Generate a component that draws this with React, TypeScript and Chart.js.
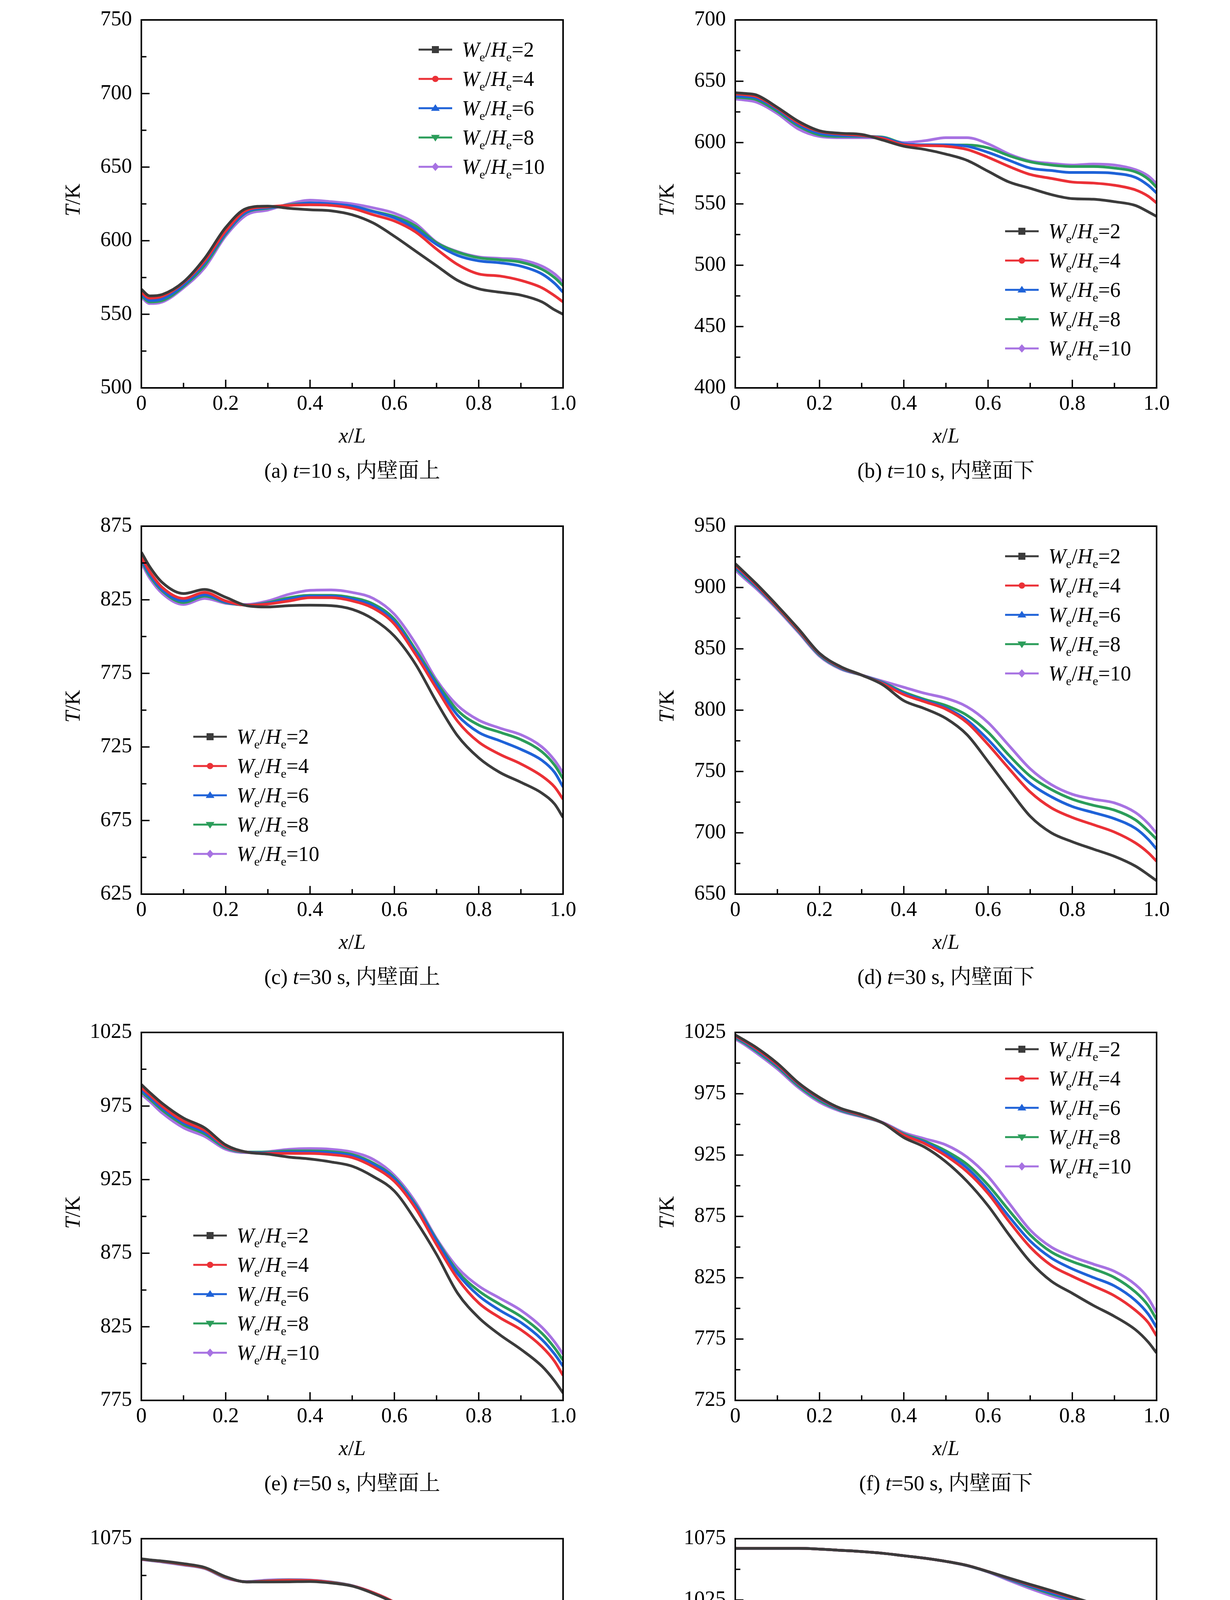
import React, { useEffect, useRef } from 'react';
import { Chart, registerables } from 'chart.js';

Chart.register(...registerables);

// x/L positions where the curves were read
const XS = [0, 0.02, 0.05, 0.1, 0.15, 0.2, 0.25, 0.3, 0.35, 0.4, 0.45, 0.5, 0.55, 0.6, 0.65, 0.7, 0.75, 0.8, 0.85, 0.9, 0.95, 0.98, 1.0];
const RATIOS = ['2', '4', '6', '8', '10'];
const X_TICKS = [0, 0.2, 0.4, 0.6, 0.8, 1.0];

// T (K) per panel, one row per We/He = 2, 4, 6, 8, 10
const T_A = [
  [567, 562.5, 563.5, 572, 588, 609, 622, 623.5, 622, 621, 620.3, 617.6, 612, 603, 593, 583, 573, 567.3, 565, 563, 558.4, 553, 550],
  [564.7, 561, 562.3, 571.5, 586.3, 606.6, 620.8, 623, 624, 624.4, 624, 622, 617.6, 613.4, 606, 594.3, 583.8, 577.4, 576, 573, 568, 562.6, 558.4],
  [563.7, 559.4, 560.5, 570, 585, 605.3, 619.7, 622.4, 624, 625.6, 625, 623.5, 619.7, 615.5, 608, 597.5, 590, 586.3, 585, 582.7, 577.4, 571, 565],
  [562.6, 558.4, 559.4, 569, 583.3, 604.5, 619.3, 622, 624.4, 625.6, 624.6, 623.5, 620, 616.5, 610, 598.6, 592.2, 588.4, 587, 585.4, 580.6, 574.9, 569.4],
  [561.5, 557.3, 558.4, 568, 581.6, 603.2, 617.6, 620.8, 625, 627.5, 626.5, 625, 622.3, 618.7, 611.7, 599, 592.6, 589, 588, 587, 582.7, 577.4, 572],
];
const T_B = [
  [640.6, 640.1, 638.8, 628.7, 617.3, 609.6, 607.6, 606.6, 602, 597, 594.4, 590.6, 585.5, 576.6, 567.8, 562.7, 557.6, 554.3, 553.8, 551.8, 548.7, 543.6, 539.8],
  [639.6, 639.1, 637.6, 628, 616, 609.1, 607, 605.8, 603.3, 598.2, 597.5, 597, 594.4, 588, 580.5, 574, 570.8, 567.8, 567, 565.2, 561.4, 556.3, 550.8],
  [638, 637.6, 636.3, 627, 614.7, 607.6, 605.8, 605.3, 604, 599, 598.2, 598.2, 597, 592, 585.5, 579.2, 577.2, 575.6, 575.6, 574.9, 571.6, 565.2, 558.9],
  [637, 636.5, 635, 625.4, 613.5, 606.3, 605, 605, 604.5, 599, 598, 598, 598, 595.7, 589.3, 584.3, 581.7, 580.5, 580.5, 579.2, 576.1, 570.3, 563.5],
  [635.5, 634.8, 633, 623.6, 611, 605, 604, 604, 603.8, 600, 601.5, 604, 604, 599, 590.6, 585, 583, 581.7, 582.5, 581.7, 577.9, 572.8, 566.5],
];
const T_C = [
  [857.3, 847.4, 836.6, 829.2, 832, 826.7, 821, 820.1, 821, 821.3, 821, 818.5, 811.8, 800.3, 781.3, 755.6, 732.5, 717.6, 707.7, 701, 693.6, 686.2, 677.1],
  [854, 844.1, 833.3, 825.9, 830, 824.2, 821.3, 822.1, 824.2, 826.4, 826.4, 824.2, 819.3, 808.5, 787.9, 764.7, 742.4, 728.3, 720, 713.5, 705.2, 697.8, 689.5],
  [852.3, 842.4, 831.7, 824.2, 828.4, 823.4, 821.4, 822.6, 825.4, 827.4, 827.4, 825.4, 820.9, 810.2, 789.5, 767.2, 746.5, 734.9, 729.2, 723.4, 715.9, 707.7, 697.8],
  [851.5, 841.3, 830.9, 823.1, 827.5, 823.1, 821.4, 823.1, 826.4, 828, 828, 826.4, 822.1, 811.8, 791.2, 768.9, 749.8, 739.9, 735, 730, 721.7, 712.6, 703.5],
  [849.9, 839.6, 829.2, 821.8, 825.9, 822.6, 821.8, 824.2, 828.7, 831.4, 831.7, 830, 825.9, 815.1, 795.3, 770.5, 753.1, 743.2, 737.8, 733.3, 725, 715.9, 707.3],
];
const T_D = [
  [919.4, 912.9, 903, 885.1, 866.3, 846.4, 835.5, 828.6, 820.7, 807.7, 801.2, 793.3, 780, 758.1, 735.3, 713.5, 700, 692.7, 686.7, 680.8, 672.8, 665.9, 660.9],
  [918.3, 911.9, 902, 884.1, 865.3, 846, 835.1, 828.6, 821.6, 812.7, 806.8, 800.8, 789.9, 772, 752.2, 733.3, 720.4, 712.5, 706.6, 700.6, 691.7, 683.8, 676.8],
  [916.9, 910.5, 901, 883.7, 864.9, 845.4, 834.5, 828.6, 822.2, 813.7, 807.7, 801.8, 791.9, 776, 757.2, 740.3, 729.4, 721.4, 716.5, 711.5, 703.6, 694.7, 686.7],
  [915.9, 909.5, 900.4, 883.1, 864.3, 844.8, 834.1, 828.6, 822.6, 814.7, 808.7, 803.8, 795.8, 782, 763.1, 746.2, 735.3, 727.4, 722.4, 718.5, 710.5, 701.6, 694.7],
  [914.3, 907.9, 899, 882.1, 863.3, 844, 833.5, 828.6, 823.6, 818.7, 813.7, 809.7, 802.8, 789.9, 771, 752.2, 739.3, 731.4, 727.4, 724.4, 716.5, 707.6, 699.6],
];
const T_E = [
  [989.6, 984.2, 976.7, 966.8, 960.2, 948.6, 943.7, 942.3, 940.3, 939, 937, 934.1, 927.1, 917.2, 897.4, 874.2, 847.8, 831.2, 819.6, 809.7, 798.2, 788.2, 780],
  [987.5, 982.5, 974.7, 964.8, 958.5, 947.8, 943.7, 942.8, 942.8, 942.8, 942, 940, 933.7, 923.8, 905.6, 880.8, 857.7, 841.2, 831.2, 823, 811.4, 801.5, 791.9],
  [985.8, 980.9, 973.4, 963.5, 957.2, 947.3, 943.7, 943.2, 943.7, 943.7, 943.2, 941.2, 935.4, 925.5, 907.3, 883.3, 861, 846.1, 836.2, 827.9, 816.3, 806.4, 798.2],
  [984.7, 979.7, 972.1, 962.2, 956.1, 946.6, 943.7, 943.7, 944.5, 944.5, 944, 942, 936.2, 926.3, 908.1, 884.1, 862.6, 849.4, 840.3, 832, 820.5, 810.6, 802.3],
  [983, 978.1, 970.1, 960.2, 954.4, 945.6, 943.3, 944, 945.6, 946.1, 945.6, 943.7, 938.7, 927.9, 909.8, 885, 865.1, 852.7, 844.4, 836.2, 824.6, 814.7, 806.4],
];
const T_F = [
  [1023, 1019, 1012.7, 999.8, 983.9, 972, 963.1, 958.1, 951.2, 939.3, 931.4, 919.5, 903.6, 883.7, 859.9, 838.1, 822.2, 812.3, 802.4, 793.5, 782.6, 772.6, 763.7],
  [1022.2, 1018.3, 1011.7, 998.8, 983.3, 971.4, 962.7, 957.5, 951.2, 941.3, 934.3, 924.4, 911.5, 893.7, 870.8, 850, 835.1, 826.2, 818.3, 810.3, 798.4, 788.5, 777.6],
  [1021.4, 1017.5, 1010.7, 997.8, 982.5, 970.6, 962.1, 957.1, 951.2, 941.7, 935.3, 926.4, 914.5, 896.6, 874.8, 854.9, 841.1, 832.2, 825.2, 818.3, 806.4, 795.4, 784.5],
  [1020.6, 1016.7, 1009.7, 996.8, 981.4, 969.4, 961.5, 956.7, 951.2, 942.3, 936.3, 928.4, 917.5, 900.6, 879.8, 859.9, 846, 838.1, 832.2, 825.2, 813.3, 802.4, 790.9],
  [1019.6, 1015.5, 1008.3, 995.2, 980, 968.1, 960.7, 956.2, 951.6, 943.3, 938.3, 933.3, 923.4, 907.5, 885.7, 863.9, 850, 842.1, 836.1, 830.2, 819.3, 808.3, 796.4],
];
const T_G = [
  [1061.3, 1060.6, 1059.8, 1058, 1055.5, 1049.2, 1045.6, 1045.6, 1045.7, 1045.9, 1044.9, 1042.8, 1037.8, 1031.2, 1020.8, 1009.7, 993.2, 982.1, 973.3, 964.2, 951, 939.4, 930.8],
  [1061.1, 1060.5, 1059.6, 1057.6, 1055.2, 1048.9, 1045.6, 1046.2, 1046.7, 1046.6, 1045.2, 1042.9, 1038.3, 1031.7, 1022.1, 1012.2, 997.3, 985.7, 978.8, 970, 957.3, 945.2, 935.3],
  [1061.1, 1060.5, 1059.6, 1057.6, 1055.2, 1048.9, 1045.6, 1046.2, 1046.7, 1046.6, 1045.2, 1042.9, 1038.3, 1031.7, 1021.8, 1011.7, 997, 986, 979.1, 970.3, 957.3, 945.2, 935.3],
  [1061, 1060.3, 1059.4, 1057.4, 1055, 1048.6, 1045.7, 1046.4, 1046.9, 1046.7, 1045.4, 1043, 1038.1, 1031.4, 1021.3, 1010.5, 996, 985.4, 978.3, 969.5, 956.8, 944.7, 935.6],
  [1060.8, 1060.1, 1059.1, 1057.1, 1054.7, 1048.2, 1045.9, 1046.9, 1047.2, 1046.9, 1045.6, 1043.1, 1038.3, 1031.2, 1020.4, 1008.9, 995.3, 985.4, 978.3, 969.2, 956.8, 944.4, 935.6],
];
const T_H = [
  [1067.1, 1067.1, 1067.1, 1067.1, 1067.1, 1066.5, 1065.5, 1064.5, 1063.1, 1061.1, 1059.1, 1056.5, 1053.2, 1048.2, 1042.9, 1037.7, 1032.7, 1027.4, 1021.8, 1013.1, 1000, 988.1, 979.4],
  [1067.1, 1067.1, 1067.1, 1067.1, 1067.1, 1066.5, 1065.5, 1064.5, 1063.1, 1061.1, 1059.1, 1056.5, 1053.2, 1048.2, 1042.6, 1037.3, 1032.1, 1026.8, 1021, 1012.1, 999, 986.7, 977.8],
  [1067.1, 1067.1, 1067.1, 1067.1, 1067.1, 1066.5, 1065.5, 1064.5, 1063.1, 1061.1, 1059.1, 1056.5, 1053.2, 1048.1, 1042.1, 1036.3, 1030.8, 1025.4, 1019.4, 1010.9, 997.6, 984.7, 975.8],
  [1067.1, 1067.1, 1067.1, 1067.1, 1067.1, 1066.5, 1065.5, 1064.5, 1063.1, 1061.1, 1059.1, 1056.5, 1053.1, 1048, 1041.9, 1035.7, 1030, 1024.8, 1018.9, 1010.1, 997, 983.7, 974.8],
  [1067.1, 1067.1, 1067.1, 1067.1, 1067.1, 1066.5, 1065.5, 1064.5, 1063.1, 1061.1, 1059.1, 1056.4, 1052.9, 1047.8, 1040.9, 1034.3, 1028.4, 1023.4, 1017.5, 1008.5, 995.2, 981.8, 972.8],
];
const T_I = [
  [1067.2, 1067.2, 1067.2, 1066.7, 1065.9, 1062.1, 1059.6, 1060.6, 1061.8, 1062.1, 1061.8, 1060.8, 1058.5, 1053.8, 1048, 1039.9, 1032, 1027.4, 1021.3, 1014.2, 999.8, 987.4, 977.1],
  [1067.2, 1067.2, 1067.2, 1066.7, 1065.9, 1062.1, 1059.8, 1060.9, 1061.8, 1062.1, 1061.6, 1060.6, 1058.1, 1053.3, 1047.2, 1039, 1031, 1026.2, 1020.3, 1013.2, 998.6, 986, 975.8],
  [1067.2, 1067.2, 1067.2, 1066.7, 1065.9, 1062.1, 1060, 1061.1, 1061.9, 1062.1, 1061.4, 1060.3, 1057.5, 1052.7, 1046.1, 1037.5, 1029.9, 1025.1, 1019.3, 1011.8, 997, 984.9, 974.1],
  [1067.2, 1067.2, 1067.2, 1066.7, 1065.9, 1062.1, 1060, 1061.1, 1061.9, 1062.1, 1061.4, 1060.1, 1057.1, 1052.2, 1045.2, 1036.6, 1029, 1024.2, 1018.5, 1011, 996.1, 984.1, 973.3],
  [1067.2, 1067.2, 1067.2, 1066.7, 1065.9, 1062.1, 1060.1, 1061.3, 1062.1, 1062.1, 1061.3, 1059.8, 1056.5, 1051, 1043.6, 1034.5, 1027.1, 1022.4, 1016.8, 1009.4, 994.3, 982.4, 971.7],
];
const T_J = [
  [1064.7, 1064.7, 1064.5, 1063.7, 1061.7, 1059.1, 1056.7, 1055.2, 1052.6, 1047.6, 1044.2, 1039.3, 1033.3, 1024.4, 1013.5, 1003.6, 991.7, 983.7, 975.8, 966.5, 952.8, 941.6, 932],
  [1064.7, 1064.7, 1064.5, 1063.7, 1061.7, 1059.1, 1056.7, 1055.2, 1052.6, 1047.6, 1044.2, 1039.3, 1033.3, 1024.4, 1013.6, 1003.8, 991.8, 983.7, 976.6, 967.6, 953.6, 941.9, 932.1],
  [1064.7, 1064.7, 1064.5, 1063.7, 1061.7, 1059.1, 1056.7, 1055.2, 1052.6, 1047.6, 1044.2, 1039.3, 1033.3, 1024.4, 1013.5, 1003.6, 991.7, 983.7, 976.8, 967.9, 953.9, 942, 932.1],
  [1064.7, 1064.7, 1064.5, 1063.7, 1061.7, 1059.1, 1056.7, 1055.2, 1052.6, 1047.6, 1044.2, 1039.3, 1033.3, 1024.4, 1013.5, 1003.6, 991.7, 983.7, 976.8, 967.9, 954, 942, 932.1],
  [1064.7, 1064.7, 1064.5, 1063.7, 1061.7, 1059.1, 1056.7, 1055.2, 1052.6, 1047.6, 1044.2, 1039.3, 1033.3, 1024.4, 1013.5, 1003.6, 991.7, 983.9, 977.2, 968.5, 954.5, 942.3, 932.3],
];

const Y_TICKS_A = [500, 550, 600, 650, 700, 750];
const Y_TICKS_B = [400, 450, 500, 550, 600, 650, 700];
const Y_TICKS_C = [625, 675, 725, 775, 825, 875];
const Y_TICKS_D = [650, 700, 750, 800, 850, 900, 950];
const Y_TICKS_E = [775, 825, 875, 925, 975, 1025];
const Y_TICKS_F = [725, 775, 825, 875, 925, 975, 1025];
const Y_TICKS_G = [825, 875, 925, 975, 1025, 1075];
const Y_TICKS_H = [775, 825, 875, 925, 975, 1025, 1075];
const Y_TICKS_I = [825, 875, 925, 975, 1025, 1075];
const Y_TICKS_J = [775, 825, 875, 925, 975, 1025, 1075];

const TAGS = ['(a)', '(b)', '(c)', '(d)', '(e)', '(f)', '(g)', '(h)', '(i)', '(j)'];
const TIMES = ['10', '10', '30', '30', '50', '50', '100', '100', '300', '300'];
const SIDES = ['内壁面上', '内壁面下', '内壁面上', '内壁面下', '内壁面上', '内壁面下', '内壁面上', '内壁面下', '内壁面上', '内壁面下'];

const PANEL_T = [T_A, T_B, T_C, T_D, T_E, T_F, T_G, T_H, T_I, T_J];
const PANEL_Y_TICKS = [Y_TICKS_A, Y_TICKS_B, Y_TICKS_C, Y_TICKS_D, Y_TICKS_E, Y_TICKS_F, Y_TICKS_G, Y_TICKS_H, Y_TICKS_I, Y_TICKS_J];

// layout / style
const CELL_W = 1575;
const CELL_H = 1296;
const PLOT_TOP = 30;
const PLOT_BOTTOM = 993;
const PLOT_LEFT = [362, 308];
const PLOT_RIGHT = [1442, 1387];
const LEGEND_POS = [
  [1072, 127], [999, 592], [495, 590], [999, 128], [495, 571],
  [999, 94], [495, 553], [999, 559], [495, 535], [999, 581],
];
const COLORS = ['#3b3b3b', '#eb3036', '#1e62d8', '#2b9d5a', '#a772e2'];
const POINT_STYLES = ['rect', 'circle', 'triangle', 'triangle', 'rectRot'];
const POINT_ROT = [0, 0, 0, 180, 0];
const SERIF = '"Liberation Serif", "Times New Roman", serif';
const CAPTION_FONT = '"Liberation Serif", "Noto Serif CJK SC", "Noto Sans CJK SC", serif';

function drawMarker(ctx: CanvasRenderingContext2D, style: string, rot: number, x: number, y: number, r: number) {
  ctx.beginPath();
  if (style === 'rect') {
    ctx.rect(x - r, y - r, 2 * r, 2 * r);
  } else if (style === 'circle') {
    ctx.arc(x, y, r * 0.9, 0, Math.PI * 2);
  } else if (style === 'triangle') {
    const s = rot ? -1 : 1;
    ctx.moveTo(x, y - s * r * 1.15);
    ctx.lineTo(x + r * 1.25, y + s * r * 0.75);
    ctx.lineTo(x - r * 1.25, y + s * r * 0.75);
    ctx.closePath();
  } else {
    ctx.moveTo(x, y - r * 1.2);
    ctx.lineTo(x + r * 1.05, y);
    ctx.lineTo(x, y + r * 1.2);
    ctx.lineTo(x - r * 1.05, y);
    ctx.closePath();
  }
  ctx.fill();
}

function drawLegendText(ctx: CanvasRenderingContext2D, x: number, baseline: number, ratio: string) {
  const big = `54px ${SERIF}`;
  const bigIt = `italic 54px ${SERIF}`;
  const small = `32px ${SERIF}`;
  const parts: [string, string, number][] = [
    ['W', bigIt, 0], ['e', small, 12], ['/', big, 0],
    ['H', bigIt, 0], ['e', small, 12], ['=' + ratio, big, 0],
  ];
  let cx = x;
  for (const [t, f, dy] of parts) {
    ctx.font = f;
    ctx.fillText(t, cx, baseline + dy);
    cx += ctx.measureText(t).width;
  }
}

const framePlugin = {
  id: 'frame',
  afterDraw(chart: any, _args: any, opts: any) {
    const { ctx, chartArea: a, scales } = chart;
    ctx.save();
    ctx.strokeStyle = '#000';
    ctx.lineWidth = 4;
    ctx.strokeRect(a.left, a.top, a.right - a.left, a.bottom - a.top);

    ctx.lineWidth = 3.5;
    ctx.beginPath();
    for (let k = 1; k < 10; k++) {
      const px = scales.x.getPixelForValue(k / 10);
      const len = k % 2 === 0 ? 21 : 13;
      ctx.moveTo(px, a.bottom);
      ctx.lineTo(px, a.bottom - len);
    }
    const yMin = scales.y.min;
    const yMax = scales.y.max;
    for (let v = yMin + 25, k = 1; v < yMax; v += 25, k++) {
      const py = scales.y.getPixelForValue(v);
      const len = k % 2 === 0 ? 21 : 13;
      ctx.moveTo(a.left, py);
      ctx.lineTo(a.left + len, py);
    }
    ctx.stroke();

    // legend
    const lx = opts.legendX;
    const ly = opts.legendY;
    chart.data.datasets.forEach((ds: any, i: number) => {
      const y = ly + i * 75;
      ctx.strokeStyle = ds.borderColor;
      ctx.fillStyle = ds.borderColor;
      ctx.lineWidth = 5;
      ctx.beginPath();
      ctx.moveTo(lx, y);
      ctx.lineTo(lx + 86, y);
      ctx.stroke();
      drawMarker(ctx, ds.pointStyle, ds.pointRotation, lx + 43, y, 9);
      ctx.fillStyle = '#000';
      ctx.textBaseline = 'alphabetic';
      ctx.textAlign = 'left';
      drawLegendText(ctx, lx + 111, y + 18, RATIOS[i]);
    });
    ctx.restore();
  },
};

function Panel({ index }: { index: number }) {
  const canvasRef = useRef<HTMLCanvasElement>(null);
  const col = index % 2;
  const row = Math.floor(index / 2);
  const plotLeft = PLOT_LEFT[col];
  const plotRight = PLOT_RIGHT[col];

  useEffect(() => {
    const el = canvasRef.current;
    if (!el) return;
    const values = PANEL_T[index];
    const yTicks = PANEL_Y_TICKS[index];
    const chart = new Chart(el, {
      type: 'line',
      data: {
        datasets: RATIOS.map((r, s) => ({
          label: `We/He=${r}`,
          data: XS.map((x, j) => ({ x, y: values[s][j] })),
          borderColor: COLORS[s],
          backgroundColor: COLORS[s],
          borderWidth: 7,
          pointRadius: 0,
          pointStyle: POINT_STYLES[s],
          pointRotation: POINT_ROT[s],
          cubicInterpolationMode: 'monotone',
          fill: false,
        })),
      },
      options: {
        responsive: false,
        animation: false,
        devicePixelRatio: 1,
        events: [],
        layout: { padding: { left: 0, top: PLOT_TOP, right: CELL_W - plotRight, bottom: 0 } },
        plugins: {
          legend: { display: false },
          tooltip: { enabled: false },
          frame: { legendX: LEGEND_POS[index][0], legendY: LEGEND_POS[index][1] },
        } as any,
        scales: {
          x: {
            type: 'linear',
            min: 0,
            max: 1,
            grid: { display: false, drawTicks: false },
            border: { display: false },
            afterBuildTicks: (s: any) => { s.ticks = X_TICKS.map((v) => ({ value: v })); },
            afterFit: (s: any) => { s.height = CELL_H - PLOT_BOTTOM; },
            ticks: {
              padding: 15,
              maxRotation: 0,
              autoSkip: false,
              color: '#000',
              font: { family: SERIF, size: 54, lineHeight: 1 },
              callback: (v: any) => (Number(v) === 0 ? '0' : Number(v).toFixed(1)),
            },
          },
          y: {
            type: 'linear',
            min: yTicks[0],
            max: yTicks[yTicks.length - 1],
            grid: { display: false, drawTicks: false },
            border: { display: false },
            afterBuildTicks: (s: any) => { s.ticks = yTicks.map((v) => ({ value: v })); },
            afterFit: (s: any) => { s.width = plotLeft; },
            ticks: {
              padding: 24,
              autoSkip: false,
              color: '#000',
              font: { family: SERIF, size: 54, lineHeight: 1 },
              callback: (v: any) => String(v),
            },
          },
        },
      },
      plugins: [framePlugin],
    });
    return () => {
      chart.destroy();
    };
  }, [index, plotLeft, plotRight]);

  const midX = (plotLeft + plotRight) / 2;
  const text: React.CSSProperties = {
    position: 'absolute',
    whiteSpace: 'nowrap',
    lineHeight: 1,
    fontSize: 54,
    color: '#000',
    fontFamily: SERIF,
  };

  return (
    <div style={{ position: 'absolute', left: col * CELL_W, top: row * CELL_H, width: CELL_W, height: CELL_H }}>
      <canvas ref={canvasRef} width={CELL_W} height={CELL_H} style={{ display: 'block' }} />
      <div style={{ ...text, left: plotLeft - 176, top: (PLOT_TOP + PLOT_BOTTOM) / 2, transform: 'translate(-50%, -50%) rotate(-90deg)' }}>
        <i>T</i>/K
      </div>
      <div style={{ ...text, left: midX, top: 1115, transform: 'translate(-50%, -50%)' }}>
        <i>x</i>/<i>L</i>
      </div>
      <div style={{ ...text, left: midX, top: 1205, transform: 'translate(-50%, -50%)', fontFamily: CAPTION_FONT }}>
        {TAGS[index]} <i>t</i>={TIMES[index]} s, {SIDES[index]}
      </div>
    </div>
  );
}

export default function App() {
  return (
    <div style={{ position: 'absolute', left: 0, top: 0, width: 3150, height: 6419, background: '#fff', overflow: 'hidden' }}>
      {PANEL_T.map((_, i) => (
        <Panel key={i} index={i} />
      ))}
    </div>
  );
}
